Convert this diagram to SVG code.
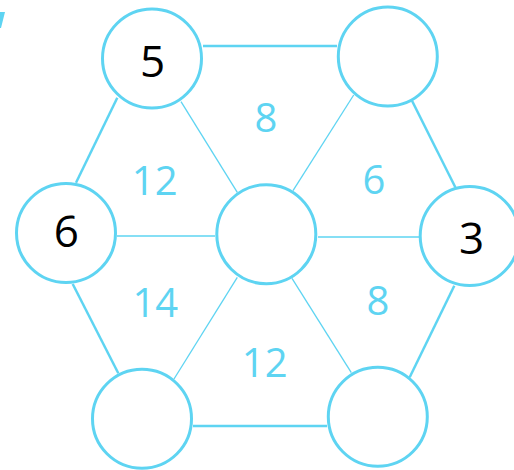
<svg xmlns="http://www.w3.org/2000/svg" width="514" height="470" viewBox="0 0 514 470">
<style>
.node{fill:#fff;stroke:#5ED4F2;stroke-width:3}
.edge{stroke:#5ED4F2;stroke-width:2.5;fill:none}
.spoke{stroke:#5ED4F2;stroke-width:1.3;fill:none}
.num{font-family:"Open Sans","Liberation Sans",sans-serif;font-size:44px;fill:#000;text-anchor:middle}
.lab{font-family:"Open Sans","Liberation Sans",sans-serif;font-size:40px;fill:#5ED4F2;text-anchor:middle}
</style>
<rect width="514" height="470" fill="#fff"/>
<polygon points="0,12 5,12 1,28 0,28" fill="#5ED4F2"/>
<g id="connectors">
<line class="edge" x1="203" y1="46" x2="337" y2="46"/>
<line class="edge" x1="117.3" y1="97.7" x2="76" y2="182.7"/>
<line class="edge" x1="72.7" y1="284" x2="118.3" y2="373.3"/>
<line class="edge" x1="412" y1="100.7" x2="455.3" y2="187.3"/>
<line class="edge" x1="454.3" y1="285.7" x2="409.7" y2="377.3"/>
<line class="edge" x1="193" y1="426" x2="327" y2="426"/>
<line class="spoke" x1="181" y1="101.7" x2="237.3" y2="192.3"/>
<line class="spoke" x1="353.7" y1="95" x2="293" y2="190.7"/>
<line class="spoke" x1="237.3" y1="277.3" x2="174" y2="379"/>
<line class="spoke" x1="292" y1="278.3" x2="351.3" y2="372.7"/>
<line class="spoke" x1="117" y1="236" x2="215" y2="236"/>
<line class="spoke" x1="318" y1="237" x2="419" y2="237"/>
</g>
<g id="n-topleft"><circle class="node" cx="152" cy="58.5" r="49.5"/><text class="num" x="152.7" y="76.7">5</text></g>
<g id="n-topright"><circle class="node" cx="387.8" cy="56.5" r="49.5"/></g>
<g id="n-left"><circle class="node" cx="66" cy="233" r="49.5"/><text class="num" x="66.3" y="247.3">6</text></g>
<g id="n-center"><circle class="node" cx="266.3" cy="234.3" r="49.5"/></g>
<g id="n-right"><circle class="node" cx="469.7" cy="236" r="49.5"/><text class="num" x="471.7" y="254">3</text></g>
<g id="n-bottomleft"><circle class="node" cx="142" cy="418.7" r="49.5"/></g>
<g id="n-bottomright"><circle class="node" cx="377.8" cy="416.7" r="49.5"/></g>
<g id="labels">
<text class="lab" x="266" y="131.5">8</text>
<text class="lab" x="154.7" y="195">12</text>
<text class="lab" x="374" y="194">6</text>
<text class="lab" x="155.3" y="316.5">14</text>
<text class="lab" x="378" y="315">8</text>
<text class="lab" x="264.7" y="376.5">12</text>
</g>
</svg>
